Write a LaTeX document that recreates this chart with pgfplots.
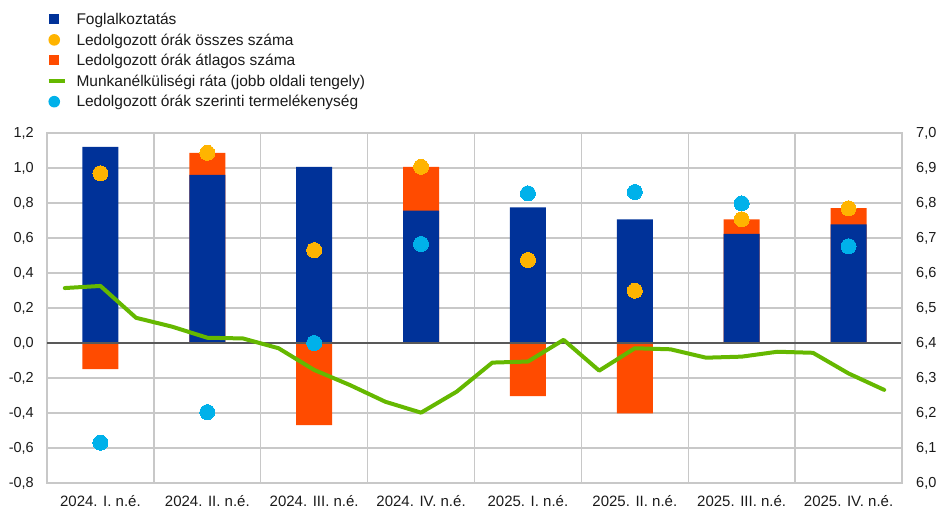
\documentclass[border=0pt]{standalone}
\usepackage{fontspec}
\setmainfont{Liberation Sans}
\usepackage{pgfplots}
\pgfplotsset{compat=1.18}
\usepackage{pgfplotstable}

\definecolor{ecbblue}{HTML}{003299}
\definecolor{ecbyellow}{HTML}{FFB400}
\definecolor{ecborange}{HTML}{FF4B00}
\definecolor{ecbgreen}{HTML}{65B800}
\definecolor{ecbcyan}{HTML}{00B1EA}
\definecolor{gridgray}{HTML}{C8C8C8}
\definecolor{zerogray}{HTML}{595959}
\definecolor{txt}{HTML}{1A1A1A}

\pgfplotstableread{
x emp avg tot prod
0 1.120 -0.150 0.970 -0.570
1 0.960 0.127 1.087 -0.395
2 1.007 -0.470 0.531 0.000
3 0.756 0.251 1.007 0.566
4 0.775 -0.303 0.474 0.855
5 0.707 -0.402 0.299 0.863
6 0.623 0.084 0.707 0.798
7 0.678 0.092 0.770 0.553
}\quarterly

\pgfplotstableread{
x rate
-0.3333 6.557
0.0000 6.563
0.3333 6.472
0.6667 6.447
1.0000 6.415
1.3333 6.413
1.6667 6.385
2.0000 6.323
2.3333 6.280
2.6667 6.232
3.0000 6.201
3.3333 6.261
3.6667 6.344
4.0000 6.347
4.3333 6.409
4.6667 6.321
5.0000 6.385
5.3333 6.382
5.6667 6.358
6.0000 6.361
6.3333 6.375
6.6667 6.372
7.0000 6.313
7.3333 6.266
}\monthly

\begin{document}
\begin{tikzpicture}
\useasboundingbox (0,0) rectangle (939bp,509bp);
\begin{axis}[
  at={(47bp,26bp)}, anchor=south west,
  scale only axis, width=855bp, height=350bp,
  xmin=-0.5, xmax=7.5, ymin=-0.8, ymax=1.2,
  xtick={0,1,2,3,4,5,6,7},
  xticklabels={2024. I. n.é., 2024. II. n.é., 2024. III. n.é., 2024. IV. n.é., 2025. I. n.é., 2025. II. n.é., 2025. III. n.é., 2025. IV. n.é.},
  minor xtick={0.5,1.5,2.5,3.5,4.5,5.5,6.5},
  ytick={-0.8,-0.6,-0.4,-0.2,0,0.2,0.4,0.6,0.8,1.0,1.2},
  xminorgrids, ymajorgrids,
  grid style={gridgray, line width=1.3bp},
  minor grid style={gridgray, line width=1.3bp},
  axis line style={gridgray, line width=1.3bp},
  major tick length=0pt, minor tick length=0pt,
  tick style={draw=none},
  /pgf/number format/assume math mode=true,
  yticklabel style={/pgf/number format/.cd, fixed, fixed zerofill, precision=1, use comma},
  tick label style={font=\fontsize{14.5bp}{17bp}\selectfont, text=txt, inner sep=0pt},
  xticklabel style={font=\fontsize{15bp}{17bp}\selectfont},
  yticklabel shift=13bp,
  xticklabel shift=12bp,
  legend cell align=left,
  legend style={draw=none, fill=none, inner sep=0pt, outer sep=0pt,
    at={(axis description cs:0,1.3449)}, anchor=north west,
    font=\fontsize{15.5bp}{18bp}\selectfont, text=txt,
    column sep=10bp, row sep=6.6bp,
    nodes={inner sep=0pt, text height=12.2bp, text depth=1.8bp}},
]
\addlegendimage{legend image code/.code={\path[draw=none, fill=none] (0bp,-5.4bp) rectangle (16bp,5.4bp); \fill[ecbblue, draw=none] (0.5bp,-5bp) rectangle (10.5bp,5bp);}}
\addlegendentry{Foglalkoztatás}
\addlegendimage{legend image code/.code={\path[draw=none, fill=none] (0bp,-5.4bp) rectangle (16bp,5.4bp); \fill[ecbyellow, draw=none] (5.5bp,0bp) circle (5.8bp);}}
\addlegendentry{Ledolgozott órák összes száma}
\addlegendimage{legend image code/.code={\path[draw=none, fill=none] (0bp,-5.4bp) rectangle (16bp,5.4bp); \fill[ecborange, draw=none] (0.5bp,-5bp) rectangle (10.5bp,5bp);}}
\addlegendentry{Ledolgozott órák átlagos száma}
\addlegendimage{legend image code/.code={\path[draw=none, fill=none] (0bp,-5.4bp) rectangle (16bp,5.4bp); \draw[ecbgreen, line width=3.5bp, fill=none] (0bp,0bp) -- (16bp,0bp);}}
\addlegendentry{Munkanélküliségi ráta (jobb oldali tengely)}
\addlegendimage{legend image code/.code={\path[draw=none, fill=none] (0bp,-5.4bp) rectangle (16bp,5.4bp); \fill[ecbcyan, draw=none] (5.5bp,0bp) circle (5.8bp);}}
\addlegendentry{Ledolgozott órák szerinti termelékenység}

% orange component (stacked above blue when positive, below zero when negative)
\addplot[ybar, bar width=36bp, bar shift=0pt, fill=ecborange, draw=none, forget plot]
  table[x=x, y expr={ifthenelse(\thisrow{avg}>0, \thisrow{emp}+\thisrow{avg}, \thisrow{avg})}] {\quarterly};
% employment
\addplot[ybar, bar width=36bp, bar shift=0pt, fill=ecbblue, draw=none, forget plot]
  table[x=x, y=emp] {\quarterly};
% zero line
\addplot[zerogray, line width=2bp, forget plot] coordinates {(-0.5,0) (7.5,0)};
% total hours
\addplot[only marks, mark=*, mark size=7.5bp, mark options={fill=ecbyellow, draw=ecbyellow, line width=0pt}, forget plot]
  table[x=x, y=tot] {\quarterly};
% productivity
\addplot[only marks, mark=*, mark size=7.5bp, mark options={fill=ecbcyan, draw=ecbcyan, line width=0pt}, forget plot]
  table[x=x, y=prod] {\quarterly};
\end{axis}

\begin{axis}[
  at={(47bp,26bp)}, anchor=south west,
  scale only axis, width=855bp, height=350bp,
  xmin=-0.5, xmax=7.5, ymin=6.0, ymax=7.0,
  axis x line=none, axis y line*=right,
  ytick={6.0,6.1,6.2,6.3,6.4,6.5,6.6,6.7,6.8,6.9,7.0},
  axis line style={gridgray, line width=1.3bp},
  major tick length=0pt, tick style={draw=none},
  /pgf/number format/assume math mode=true,
  yticklabel style={/pgf/number format/.cd, fixed, fixed zerofill, precision=1, use comma},
  tick label style={font=\fontsize{14.5bp}{17bp}\selectfont, text=txt, inner sep=0pt},
  yticklabel shift=14bp,
]
\addplot[ecbgreen, line width=4bp, line join=round, line cap=round, forget plot]
  table[x=x, y=rate] {\monthly};
\end{axis}
\end{tikzpicture}
\end{document}
